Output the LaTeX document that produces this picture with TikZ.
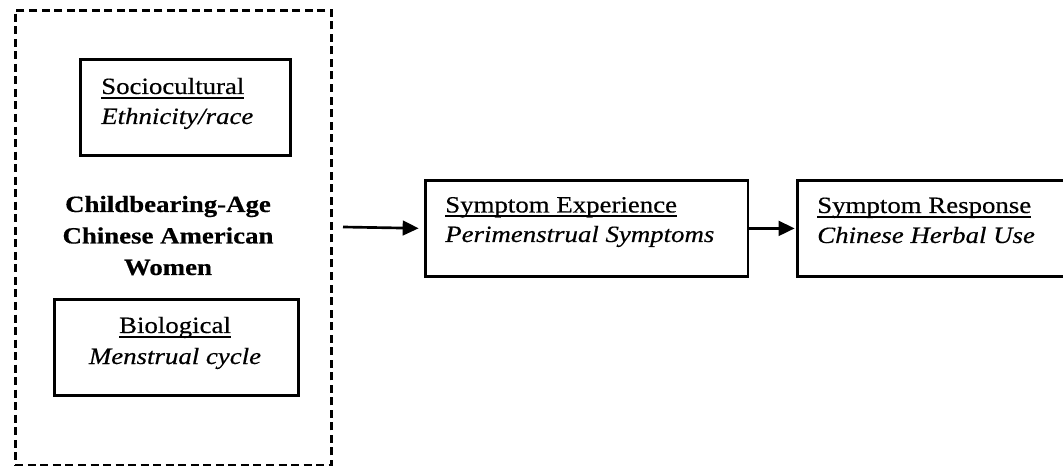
\documentclass[tikz,border=0pt]{standalone}
\usepackage{fontspec}
\setmainfont[FakeStretch=1.15,FakeBold=0.4]{Liberation Serif}
\usetikzlibrary{arrows.meta}
% underline sitting just below the baseline
\newcommand\ulx[1]{\setbox0=\hbox{#1}\rlap{\rule[-3.4pt]{\wd0}{1.2pt}}\box0}
\begin{document}
\begin{tikzpicture}[x=0.75pt,y=-0.75pt,
  every node/.style={font=\fontsize{17.5}{21}\selectfont,inner sep=0pt},
  box/.style={draw,line width=2.1pt,rectangle,anchor=north west},
  groupbox/.style={draw,line width=2pt,dash pattern=on 6pt off 3.4pt,rectangle,anchor=north west},
  head/.style={anchor=base west},
  sub/.style={anchor=base west,font=\fontsize{17.5}{21}\selectfont\itshape},
  title/.style={anchor=base,font=\fontsize{17.5}{21}\selectfont\bfseries},
  arr/.style={line width=2pt,-{Triangle[length=12pt,width=11pt]}}]
\useasboundingbox (0,0) rectangle (1063,466);
\clip (0,0) rectangle (1063,466);

% dashed frame around the population
\node[groupbox,minimum width=237pt,minimum height=341.25pt] (group) at (14,9) {};

% influences inside the frame
\node[box,minimum width=157.5pt,minimum height=72pt] (socio) at (79,58) {};
\node[head] (sociohead) at (101,94) {\ulx{Sociocultural}};
\node[sub] (sociosub) at (101,124) {Ethnicity/race};

\node[box,minimum width=183pt,minimum height=72pt] (bio) at (53,298) {};
\node[head,anchor=base] (biohead) at (175,333) {\ulx{Biological}};
\node[sub,anchor=base] (biosub) at (175,364) {Menstrual cycle};

\node[title] (women1) at (168,212) {Childbearing-Age};
\node[title] (women2) at (168,243.5) {Chinese American};
\node[title] (women3) at (168,275) {Women};

% symptom model
\node[box,minimum width=242pt,minimum height=72pt] (exp) at (424,179) {};
\node[head] (exphead) at (445,212.5) {\ulx{Symptom Experience}};
\node[sub] (expsub) at (445,242) {Perimenstrual Symptoms};

\node[box,minimum width=217.5pt,minimum height=72pt] (resp) at (796,179) {};
\node[head] (resphead) at (817,213) {\ulx{Symptom Response}};
\node[sub] (respsub) at (817,243) {Chinese Herbal Use};

\coordinate (start) at (343,227);
\draw[arr,shorten >=4pt] (start) -- (exp.west);
\draw[arr,shorten >=1pt] (exp.east) -- (resp.west);
\end{tikzpicture}
\end{document}
